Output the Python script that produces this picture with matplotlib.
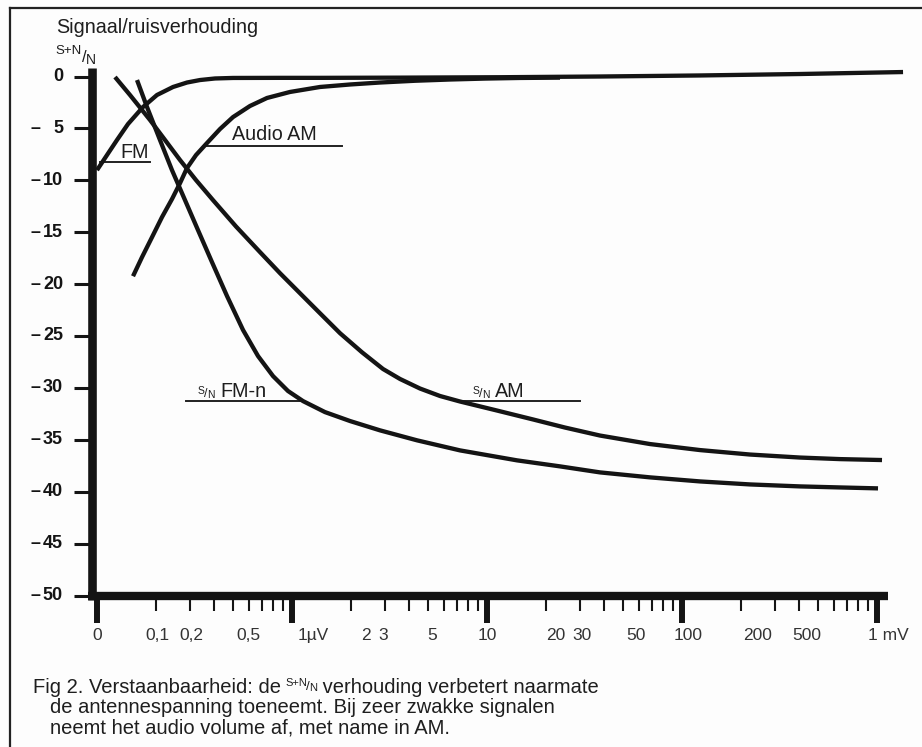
import matplotlib
matplotlib.use('Agg')
import matplotlib.pyplot as plt
from matplotlib.lines import Line2D
from matplotlib.ticker import FixedLocator, LogLocator, NullFormatter
from matplotlib.transforms import blended_transform_factory

plt.rcParams['font.family'] = ['Liberation Sans', 'DejaVu Sans']

# antennespanning in microvolt, signaal/ruis in dB
fm_uv = [0.1, 0.1125, 0.1266, 0.1442, 0.1722, 0.2031, 0.2454, 0.2894, 0.3375,
         0.403, 0.498, 0.868, 1.392, 3.58, 11.66, 37.97, 123.7, 402.9, 1360]
fm_db = [-9.02, -7.57, -6.12, -4.58, -2.94, -1.78, -1.01, -0.58, -0.34,
         -0.19, -0.14, -0.13, -0.13, -0.11, -0.07, 0.0, 0.10, 0.24, 0.43]

audio_am_uv = [0.153, 0.1701, 0.1915, 0.2154, 0.2424, 0.2666, 0.2894, 0.3219,
               0.3665, 0.4274, 0.4983, 0.609, 0.7443, 0.9766, 1.392, 1.983,
               2.827, 4.274, 6.46, 9.766, 14.76, 23.68]
audio_am_db = [-19.24, -17.41, -15.48, -13.55, -11.81, -10.27, -8.82, -7.57,
               -6.41, -5.06, -3.91, -2.84, -2.07, -1.49, -1.01, -0.77,
               -0.58, -0.41, -0.29, -0.20, -0.14, -0.11]

fmn_uv = [0.1604, 0.1805, 0.2104, 0.2424, 0.2827, 0.3296, 0.3889, 0.4642,
          0.5608, 0.6694, 0.7992, 0.9539, 1.139, 1.476, 1.983, 2.827, 4.375,
          7.27, 14.25, 23.68, 37.97, 68.55, 123.7, 223.3, 402.9, 646, 1012]
fmn_db = [-0.34, -2.94, -6.12, -9.02, -11.91, -14.80, -17.89, -21.15,
          -24.42, -26.93, -28.86, -30.30, -31.27, -32.33, -33.19, -34.09,
          -35.05, -36.02, -36.98, -37.56, -38.14, -38.62, -39.01, -39.30,
          -39.49, -39.59, -39.68]

am_uv = [0.1237, 0.1476, 0.187, 0.2233, 0.2666, 0.3219, 0.3935, 0.5163,
         0.6855, 0.868, 1.099, 1.392, 1.763, 2.286, 2.93, 3.58, 4.533, 5.741,
         7.27, 11.25, 17.22, 25.12, 37.97, 68.55, 123.7, 223.3, 402.9, 646, 1061]
am_db = [-0.05, -1.78, -4.19, -6.12, -8.05, -9.98, -11.91, -14.45, -16.92,
         -18.95, -20.88, -22.81, -24.73, -26.57, -28.18, -29.14, -30.06,
         -30.78, -31.31, -32.18, -33.04, -33.82, -34.59, -35.41, -35.99,
         -36.42, -36.71, -36.86, -36.95]

y_ticks = [0, -5, -10, -15, -20, -25, -30, -35, -40, -45, -50]
x_major = [0.1, 1, 10, 100, 1000]
x_labels = ['0', '0,1', '0,2', '0,5', '1µV', '2', '3', '5', '10',
            '20', '30', '50', '100', '200', '500', '1 mV']
x_label_pos = [0.1, 0.203, 0.303, 0.601, 1.28, 2.39, 2.93, 5.22, 10,
               22.6, 30.7, 58, 107, 243, 437, 1140]

W, H = 922, 747
fig = plt.figure(figsize=(W / 100, H / 100), dpi=100)
fig.patch.set_facecolor('#fdfdfd')
ink = '#141414'

ax = fig.add_axes([97 / W, 1 - 595.5 / H, 780 / W, 519 / H])
ax.set_xscale('log')
ax.set_xlim(0.1, 1000)
ax.set_ylim(-50, 0)
ax.patch.set_visible(False)
for s in ax.spines.values():
    s.set_visible(False)
ax.spines['left'].set_position(('outward', 3.6))

ax.set_yticks(y_ticks)
ax.xaxis.set_major_locator(FixedLocator(x_major))
ax.xaxis.set_minor_locator(LogLocator(base=10, subs=range(2, 10)))
ax.xaxis.set_minor_formatter(NullFormatter())
ax.tick_params(axis='y', length=13, width=2.2, color=ink, labelleft=False)
ax.tick_params(axis='x', which='major', length=19.5, width=4.3, color=ink,
               labelbottom=False)
ax.tick_params(axis='x', which='minor', length=11, width=1.5, color=ink)

# dikke assen
yt = blended_transform_factory(ax.transAxes, ax.transData)
ax.plot([-5 / 780] * 2, [0.82, -50.45], transform=yt, color=ink, lw=6.2,
        solid_capstyle='butt', clip_on=False)
ax.plot([-9 / 780, 791 / 780], [-0.001, -0.001], transform=ax.transAxes,
        color=ink, lw=6, solid_capstyle='butt', clip_on=False)

# y-as labels
for v in y_ticks:
    ax.text(-34 / 780, v, str(abs(v)), transform=yt, ha='right', va='center',
            fontsize=13, fontweight='bold', color=ink)
    if v != 0:
        ax.text(-62 / 780, v, '–', transform=yt, ha='center', va='center',
                fontsize=13, fontweight='bold', color=ink)

# x-as labels
xt = blended_transform_factory(ax.transData, ax.transAxes)
for pos, lab in zip(x_label_pos, x_labels):
    ax.text(pos, -0.078, lab, transform=xt, ha='center', va='center',
            fontsize=12.5, color='#333333')

# krommen
for xs, ys in [(fm_uv, fm_db), (audio_am_uv, audio_am_db),
               (fmn_uv, fmn_db), (am_uv, am_db)]:
    ax.plot(xs, ys, color=ink, lw=3.1, solid_joinstyle='round',
            solid_capstyle='butt', clip_on=False, zorder=3)

# onderstrepingen bij de labels
ax.plot([0.1036, 0.187], [-8.25, -8.25], color='#222222', lw=1.4, clip_on=False)
ax.plot([0.358, 1.80], [-6.70, -6.70], color='#222222', lw=1.4)
ax.plot([0.286, 1.14], [-31.3, -31.3], color='#222222', lw=1.4)
ax.plot([7.27, 30.0], [-31.3, -31.3], color='#222222', lw=1.4)

renderer = fig.canvas.get_renderer()


def put(x, y, s, size, **kw):
    t = fig.text(x / W, 1 - y / H, s, fontsize=size, va='baseline',
                 color=kw.pop('color', '#1e1e1e'), **kw)
    return t.get_window_extent(renderer).x1


def s_over_n(x, y, size, top='S'):
    x = put(x, y - size * 0.45, top, size)
    x = put(x - 0.5, y, '/', size * 1.2)
    return put(x - 1, y + size * 0.1, 'N', size)


put(120, 158, 'FM', 14.2)
put(232, 140, 'Audio AM', 14.2)
x = s_over_n(198, 397, 7.5)
put(x + 6, 397, 'FM-n', 14.2)
x = s_over_n(473, 397, 7.5)
put(x + 6, 397, 'AM', 14.2)

# titel van de y-as
put(56, 33, 'Signaal/ruisverhouding', 14.2)
x = put(55, 54, 'S+N', 9.5)
x = put(x + 1, 62, '/', 12)
put(x - 1, 64, 'N', 10)

# onderschrift
x = put(33, 693, 'Fig 2. Verstaanbaarheid: de', 14.5)
x = s_over_n(x + 4, 690, 8, top='S+N')
put(x, 693, ' verhouding verbetert naarmate', 14.5)
put(50, 713, 'de antennespanning toeneemt. Bij zeer zwakke signalen', 14.5)
put(50, 733, 'neemt het audio volume af, met name in AM.', 14.5)

# kader
fig.add_artist(Line2D([10 / W, 10 / W], [0, 1 - 8 / H], color='#222222', lw=1.6))
fig.add_artist(Line2D([10 / W, 1], [1 - 8 / H, 1 - 8 / H], color='#222222', lw=1.6))

fig.savefig('out.png', dpi=100, facecolor=fig.get_facecolor())
